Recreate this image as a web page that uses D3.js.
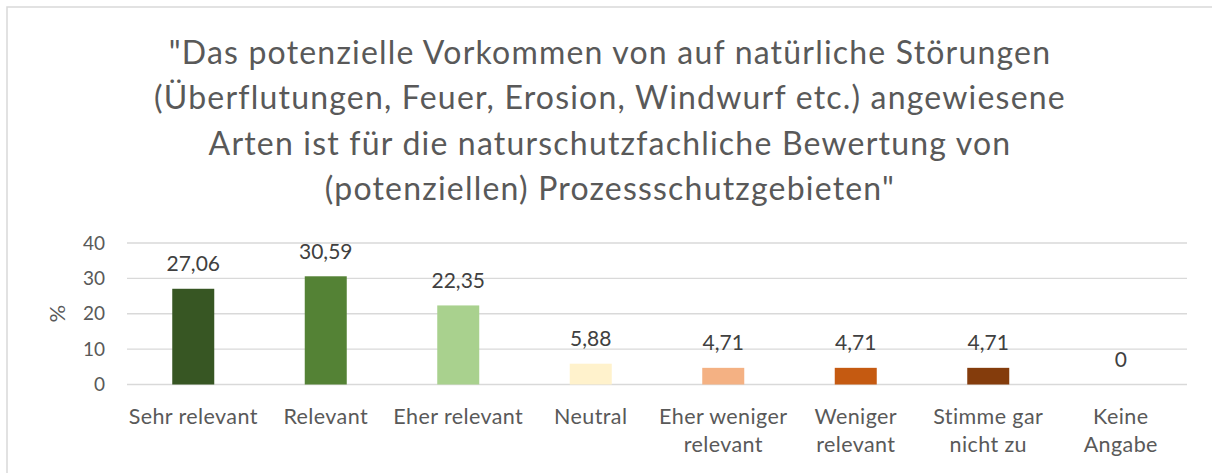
<!DOCTYPE html>
<html lang="de">
<head>
  <meta charset="UTF-8"/>
  <title>Naturschutzfachliche Bewertung – Störungsarten</title>
  <script src="https://d3js.org/d3.v7.min.js"></script>
  <style>
    body { margin: 0; background: #fff; font-family: Lato, "Open Sans", sans-serif; }
    svg { display: block; }
    .grid line { stroke: #d9d9d9; stroke-width: 1.3px; }
    .tick-label { fill: #595959; font-size: 19px; text-anchor: end; }
    .cat-label { fill: #595959; font-size: 21.5px; letter-spacing: 0.4px; text-anchor: middle; }
    .val-label { fill: #404040; font-size: 21px; text-anchor: middle; }
    .title { fill: #595959; font-size: 32px; letter-spacing: 1.2px; text-anchor: middle; }
  </style>
</head>
<body>
<svg id="chart" width="1212" height="473"></svg>
<script>
// chart data
const categories = [
  ['Sehr relevant'], ['Relevant'], ['Eher relevant'], ['Neutral'],
  ['Eher weniger', 'relevant'], ['Weniger', 'relevant'], ['Stimme gar', 'nicht zu'], ['Keine', 'Angabe']
];
const values = [27.06, 30.59, 22.35, 5.88, 4.71, 4.71, 4.71, 0];
const barColors = ['#375623', '#548235', '#a9d18e', '#fff2cc', '#f4b183', '#c55a11', '#843c0c', '#7f7f7f'];
const yTicks = [0, 10, 20, 30, 40];
const titleLines = [
  '"Das potenzielle Vorkommen von auf natürliche Störungen',
  '(Überflutungen, Feuer, Erosion, Windwurf etc.) angewiesene',
  'Arten ist für die naturschutzfachliche Bewertung von',
  '(potenziellen) Prozessschutzgebieten"'
];

const svg = d3.select('#chart');

// outer frame
svg.append('rect')
  .attr('x', 7).attr('y', 7).attr('width', 1230).attr('height', 500)
  .attr('fill', 'none').attr('stroke', '#d9d9d9').attr('stroke-width', 1.5);

// title
svg.append('g').selectAll('text')
  .data(titleLines).enter()
  .append('text').attr('class', 'title')
  .attr('x', 610)
  .attr('y', (d, i) => 64 + i * 45.3)
  .text(d => d);

const x = d3.scaleBand().domain(d3.range(categories.length)).range([127, 1187]).paddingInner(0.683).paddingOuter(0.3415);
const y = d3.scaleLinear().domain([0, 40]).range([384.5, 243]);

// gridlines
svg.append('g').attr('class', 'grid').selectAll('line')
  .data(yTicks).enter()
  .append('line')
  .attr('x1', 127).attr('x2', 1187)
  .attr('y1', d => y(d)).attr('y2', d => y(d));

// y tick labels
svg.append('g').selectAll('text')
  .data(yTicks).enter()
  .append('text').attr('class', 'tick-label')
  .attr('x', 105).attr('y', d => y(d)).attr('dy', '0.35em')
  .text(d => d);

// y axis title
svg.append('text')
  .attr('transform', `translate(65,${(y(0) + y(40)) / 2}) rotate(-90)`)
  .attr('text-anchor', 'middle').attr('fill', '#595959').style('font-size', '22px')
  .text('%');

// bars
svg.append('g').selectAll('rect')
  .data(values).enter()
  .append('rect')
  .attr('x', (d, i) => x(i))
  .attr('width', x.bandwidth())
  .attr('y', d => y(d))
  .attr('height', d => y(0) - y(d))
  .attr('fill', (d, i) => barColors[i]);

// value labels
svg.append('g').selectAll('text')
  .data(values).enter()
  .append('text').attr('class', 'val-label')
  .attr('x', (d, i) => x(i) + x.bandwidth() / 2)
  .attr('y', d => y(d) - 17.5)
  .text(d => String(d).replace('.', ','));

// category labels
const cat = svg.append('g').selectAll('text')
  .data(categories).enter()
  .append('text').attr('class', 'cat-label')
  .attr('x', (d, i) => x(i) + x.bandwidth() / 2)
  .attr('y', 424);
cat.selectAll('tspan')
  .data(d => d).enter()
  .append('tspan')
  .attr('x', function () { return this.parentNode.getAttribute('x'); })
  .attr('dy', (d, i) => i === 0 ? 0 : 28)
  .text(d => d);
</script>
</body>
</html>
